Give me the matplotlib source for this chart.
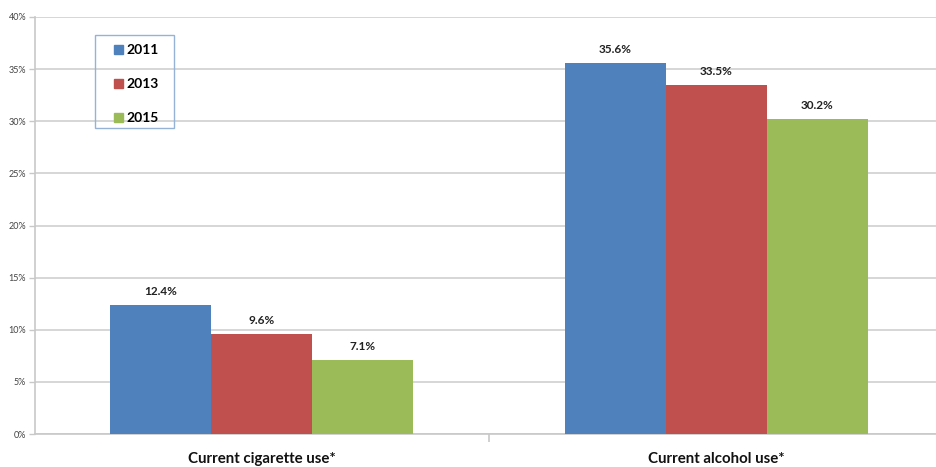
import matplotlib
matplotlib.use("Agg")
import matplotlib.pyplot as plt
import numpy as np
from matplotlib.patches import Patch, Rectangle

categories = ["Current cigarette use*", "Current alcohol use*"]
years = ["2011", "2013", "2015"]
values_2011 = [12.4, 35.6]
values_2013 = [9.6, 33.5]
values_2015 = [7.1, 30.2]
yticks = [0, 5, 10, 15, 20, 25, 30, 35, 40]
colors = ["#4F81BD", "#C0504D", "#9BBB59"]

plt.rcParams['font.family'] = ['Lato', 'DejaVu Sans']

W, H = 936, 467
fig = plt.figure(figsize=(W/100, H/100), dpi=100)
ax = fig.add_axes([34.5/W, 33/H, 909/W, 417/H])

series = [values_2011, values_2013, values_2015]
x = np.arange(len(categories)) + 0.5
bw = 0.2222
for i, (vals, c, yr) in enumerate(zip(series, colors, years)):
    pos = x + (i - 1) * bw
    bars = ax.bar(pos, vals, width=bw, color=c, label=yr, zorder=3)
    for b, v in zip(bars, vals):
        ax.text(b.get_x() + b.get_width()/2, v + 0.75, f"{v:.1f}%", ha="center",
                va="bottom", fontsize=8.5, fontweight="bold", color="#222222")

ax.set_xlim(0, 2)
ax.set_ylim(0, 40)
ax.set_yticks(yticks)
ax.set_yticklabels([f"{t}%" for t in yticks], fontsize=6.5, color="#444444")
ax.yaxis.grid(True, color="#D0D0D0", linewidth=1.2, zorder=0)
ax.set_axisbelow(True)

ax.set_xticks([1.0], minor=False)
ax.set_xticklabels([""])
ax.set_xticks(x, minor=True)
ax.set_xticklabels(categories, minor=True, fontsize=10.8, fontweight="bold", color="#111111")
ax.tick_params(axis="x", which="minor", length=0, pad=13)
ax.tick_params(axis="x", which="major", length=6, color="#C8C8C8", width=1.2)
ax.tick_params(axis="y", length=4, color="#C8C8C8", width=1.0, pad=2)

for s in ["top", "right"]:
    ax.spines[s].set_visible(False)
ax.spines["left"].set_color("#C8C8C8")
ax.spines["bottom"].set_color("#C8C8C8")
ax.spines["left"].set_linewidth(1.2)
ax.spines["bottom"].set_linewidth(1.2)

# legend frame
fig.patches.append(Rectangle((95/W, 1 - 128/H), 79/W, 93/H, transform=fig.transFigure,
                             fill=False, edgecolor="#95B3D7", linewidth=1.0, zorder=5))

handles = [Patch(color=c, label=y) for c, y in zip(colors, years)]
leg = fig.legend(handles=handles, loc="upper left",
                 bbox_to_anchor=(114/W, 1 - 44/H),
                 fontsize=10, frameon=False,
                 handlelength=0.62, handleheight=0.62,
                 handletextpad=0.3, labelspacing=1.6, borderpad=0,
                 borderaxespad=0)
for t in leg.get_texts():
    t.set_fontweight("bold")

fig.savefig("out.png", dpi=100)
